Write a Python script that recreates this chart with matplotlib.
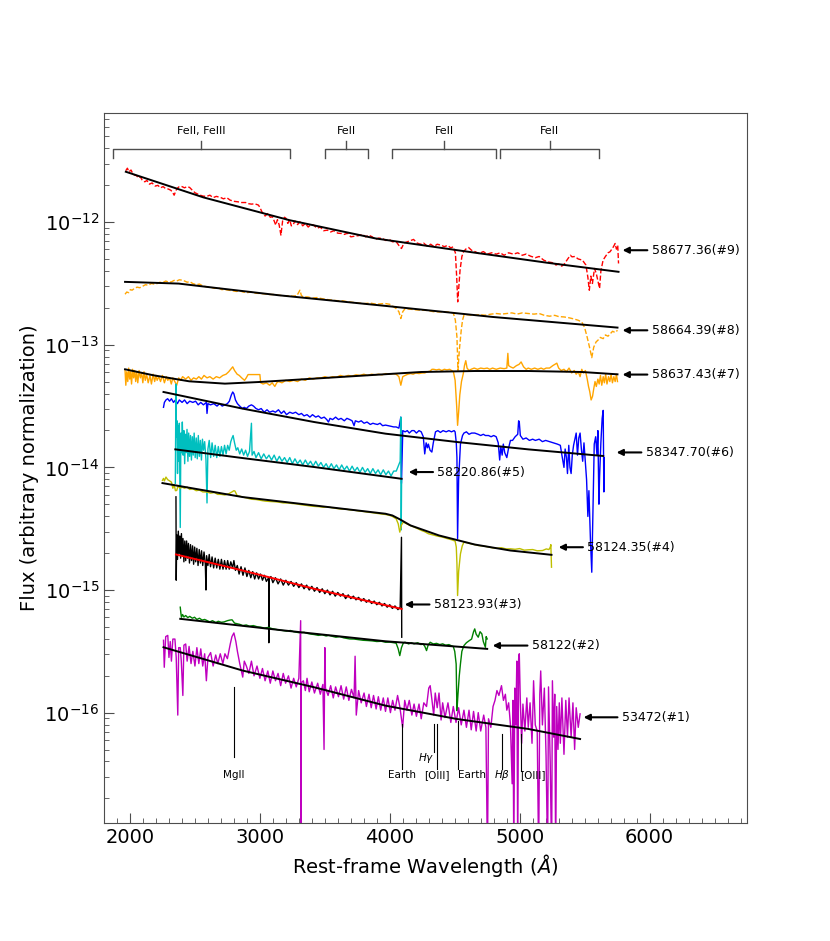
import numpy as np
from matplotlib import pyplot as plt
from matplotlib.ticker import MultipleLocator


# spectra: (rest-frame wavelength in A, log10 flux)
spec9 = [(1968, -11.58), (1980, -11.56), (1992, -11.59), (2008, -11.575), (2020, -11.60), (2034, -11.616),
         (2050, -11.62), (2065, -11.64), (2080, -11.63), (2095, -11.66), (2114, -11.671), (2130, -11.66),
         (2150, -11.69), (2170, -11.68), (2194, -11.706), (2215, -11.70), (2235, -11.72), (2255, -11.71),
         (2273, -11.725), (2295, -11.73), (2315, -11.74), (2330, -11.76), (2340, -11.78), (2355, -11.74),
         (2368, -11.72), (2379, -11.711), (2400, -11.71), (2420, -11.72), (2440, -11.71), (2459, -11.717),
         (2480, -11.74), (2500, -11.76), (2520, -11.77), (2540, -11.78), (2565, -11.788), (2590, -11.79),
         (2615, -11.78), (2640, -11.80), (2665, -11.79), (2698, -11.799), (2720, -11.81), (2745, -11.80),
         (2770, -11.82), (2800, -11.83), (2830, -11.834), (2860, -11.84), (2890, -11.84), (2915, -11.85),
         (2936, -11.853), (2960, -11.85), (2989, -11.861), (3000, -11.88), (3016, -11.916), (3040, -11.95),
         (3060, -11.93), (3080, -11.96), (3096, -11.956), (3110, -11.99), (3122, -12.024), (3135, -11.98),
         (3148, -12.02), (3162, -12.106), (3175, -11.99), (3190, -11.96), (3202, -11.97), (3215, -12.01),
         (3230, -11.98), (3242, -12.03), (3255, -12.024), (3270, -11.99), (3290, -12.02), (3308, -11.997),
         (3330, -12.03), (3350, -12.01), (3372, -12.04), (3393, -12.02), (3414, -12.024), (3440, -12.05),
         (3465, -12.04), (3490, -12.07), (3520, -12.065), (3545, -12.08), (3570, -12.07), (3600, -12.09),
         (3626, -12.092), (3650, -12.10), (3675, -12.09), (3700, -12.12), (3732, -12.114), (3760, -12.11),
         (3790, -12.10), (3815, -12.12), (3838, -12.106), (3865, -12.12), (3890, -12.14), (3915, -12.13),
         (3944, -12.133), (3970, -12.15), (3995, -12.14), (4020, -12.16), (4050, -12.16), (4070, -12.19),
         (4090, -12.215), (4110, -12.17), (4135, -12.16), (4160, -12.15), (4183, -12.141), (4210, -12.17),
         (4235, -12.18), (4260, -12.17), (4289, -12.196), (4315, -12.18), (4340, -12.20), (4365, -12.18),
         (4395, -12.188), (4420, -12.20), (4445, -12.19), (4470, -12.21), (4488, -12.201), (4505, -12.25),
         (4515, -12.446), (4523, -12.65), (4530, -12.55), (4541, -12.392), (4555, -12.28), (4568, -12.242),
         (4585, -12.22), (4607, -12.207), (4630, -12.23), (4655, -12.24), (4687, -12.256), (4720, -12.24),
         (4750, -12.26), (4785, -12.25), (4820, -12.261), (4850, -12.25), (4880, -12.27), (4915, -12.25),
         (4952, -12.261), (4985, -12.25), (5020, -12.27), (5050, -12.26), (5085, -12.278), (5120, -12.29),
         (5150, -12.28), (5185, -12.31), (5218, -12.324), (5250, -12.33), (5280, -12.35), (5300, -12.34),
         (5324, -12.359), (5345, -12.34), (5370, -12.30), (5390, -12.27), (5403, -12.283), (5425, -12.28),
         (5450, -12.30), (5483, -12.31), (5510, -12.35), (5525, -12.45), (5536, -12.555), (5548, -12.44),
         (5560, -12.50), (5576, -12.378), (5590, -12.42), (5602, -12.48), (5615, -12.541), (5625, -12.40),
         (5642, -12.31), (5660, -12.28), (5680, -12.25), (5695, -12.242), (5710, -12.22), (5722, -12.20),
         (5735, -12.174), (5745, -12.22), (5755, -12.19), (5761, -12.337)]

spec8 = [(1962, -12.588), (1975, -12.57), (1990, -12.575), (2003, -12.55), (2016, -12.555), (2035, -12.54),
         (2055, -12.53), (2075, -12.535), (2099, -12.522), (2120, -12.51), (2140, -12.515), (2165, -12.50),
         (2185, -12.505), (2209, -12.501), (2230, -12.49), (2250, -12.495), (2275, -12.48), (2300, -12.49),
         (2319, -12.487), (2340, -12.475), (2360, -12.48), (2380, -12.47), (2401, -12.473), (2420, -12.48),
         (2440, -12.49), (2460, -12.485), (2484, -12.501), (2510, -12.51), (2535, -12.505), (2560, -12.52),
         (2593, -12.528), (2620, -12.53), (2650, -12.54), (2680, -12.535), (2705, -12.55), (2731, -12.55),
         (2760, -12.555), (2790, -12.56), (2820, -12.565), (2845, -12.56), (2868, -12.569), (2900, -12.575),
         (2935, -12.57), (2970, -12.58), (3006, -12.582), (3040, -12.585), (3075, -12.59), (3110, -12.59),
         (3143, -12.596), (3180, -12.60), (3215, -12.60), (3253, -12.604), (3285, -12.60), (3300, -12.57),
         (3308, -12.555), (3320, -12.60), (3335, -12.609), (3370, -12.61), (3405, -12.62), (3440, -12.615),
         (3473, -12.623), (3510, -12.63), (3550, -12.635), (3590, -12.64), (3638, -12.642), (3680, -12.65),
         (3720, -12.655), (3760, -12.66), (3802, -12.664), (3850, -12.66), (3900, -12.67), (3940, -12.665),
         (3967, -12.664), (4000, -12.67), (4030, -12.69), (4049, -12.705), (4070, -12.73), (4085, -12.786),
         (4100, -12.73), (4118, -12.705), (4160, -12.71), (4200, -12.715), (4242, -12.718), (4290, -12.72),
         (4335, -12.73), (4380, -12.732), (4420, -12.73), (4460, -12.735), (4489, -12.74), (4505, -12.80),
         (4517, -12.936), (4525, -13.208), (4535, -13.05), (4550, -12.882), (4560, -12.80), (4571, -12.759),
         (4600, -12.755), (4640, -12.76), (4690, -12.755), (4736, -12.759), (4780, -12.75), (4820, -12.745),
         (4860, -12.75), (4901, -12.745), (4940, -12.74), (4980, -12.75), (5020, -12.74), (5066, -12.745),
         (5110, -12.75), (5150, -12.745), (5190, -12.76), (5231, -12.767), (5270, -12.76), (5300, -12.77),
         (5341, -12.773), (5380, -12.78), (5420, -12.79), (5450, -12.80), (5478, -12.814), (5500, -12.86),
         (5519, -12.936), (5540, -13.03), (5555, -13.105), (5570, -13.02), (5588, -12.977), (5605, -12.96),
         (5620, -12.94), (5643, -12.95), (5660, -12.92), (5680, -12.93), (5698, -12.909), (5715, -12.89),
         (5735, -12.90), (5753, -12.882)]

spec7 = [(1962, -13.21), (1968, -13.33), (1975, -13.22), (1983, -13.30), (1990, -13.19), (1998, -13.28),
         (2005, -13.22), (2012, -13.32), (2020, -13.20), (2028, -13.27), (2036, -13.21), (2044, -13.30),
         (2052, -13.22), (2060, -13.31), (2070, -13.21), (2080, -13.27), (2090, -13.23), (2099, -13.31),
         (2108, -13.22), (2118, -13.29), (2128, -13.24), (2140, -13.31), (2154, -13.25), (2165, -13.32),
         (2178, -13.24), (2190, -13.30), (2200, -13.25), (2209, -13.29), (2222, -13.26), (2235, -13.30),
         (2250, -13.25), (2265, -13.31), (2280, -13.26), (2291, -13.29), (2305, -13.27), (2318, -13.32),
         (2330, -13.27), (2345, -13.30), (2360, -13.33), (2375, -13.27), (2390, -13.29), (2405, -13.26),
         (2429, -13.28), (2450, -13.26), (2470, -13.29), (2490, -13.27), (2511, -13.28), (2530, -13.26),
         (2550, -13.28), (2570, -13.25), (2593, -13.27), (2615, -13.26), (2640, -13.28), (2665, -13.26),
         (2690, -13.27), (2715, -13.25), (2740, -13.24), (2760, -13.22), (2775, -13.20), (2791, -13.18),
         (2805, -13.21), (2825, -13.24), (2841, -13.25), (2860, -13.27), (2882, -13.29), (2895, -13.27),
         (2909, -13.243), (3000, -13.243), (3006, -13.31), (3025, -13.32), (3050, -13.31), (3075, -13.33),
         (3095, -13.31), (3115, -13.34), (3130, -13.31), (3143, -13.30), (3170, -13.31), (3200, -13.29),
         (3230, -13.30), (3260, -13.29), (3290, -13.30), (3320, -13.28), (3350, -13.29), (3380, -13.27),
         (3410, -13.28), (3440, -13.27), (3473, -13.27), (3500, -13.26), (3530, -13.27), (3560, -13.26),
         (3590, -13.265), (3620, -13.25), (3650, -13.26), (3680, -13.25), (3710, -13.255), (3740, -13.245),
         (3770, -13.25), (3800, -13.24), (3830, -13.25), (3860, -13.24), (3890, -13.245), (3912, -13.24),
         (3940, -13.245), (3970, -13.235), (4000, -13.24), (4025, -13.235), (4049, -13.24), (4070, -13.26),
         (4085, -13.33), (4100, -13.26), (4118, -13.25), (4140, -13.24), (4160, -13.235), (4180, -13.24),
         (4200, -13.23), (4225, -13.235), (4250, -13.23), (4269, -13.23), (4290, -13.22), (4310, -13.215),
         (4325, -13.20), (4338, -13.20), (4360, -13.205), (4380, -13.20), (4400, -13.21), (4420, -13.20),
         (4440, -13.205), (4461, -13.20), (4490, -13.22), (4503, -13.29), (4515, -13.50), (4522, -13.657),
         (4530, -13.55), (4539, -13.41), (4552, -13.30), (4566, -13.235), (4575, -13.17), (4585, -13.13),
         (4595, -13.19), (4610, -13.21), (4626, -13.20), (4650, -13.19), (4675, -13.20), (4700, -13.19),
         (4725, -13.195), (4750, -13.19), (4770, -13.20), (4791, -13.19), (4820, -13.20), (4850, -13.19),
         (4880, -13.195), (4901, -13.19), (4909, -13.07), (4915, -13.17), (4929, -13.18), (4950, -13.19),
         (4975, -13.17), (4995, -13.16), (5011, -13.14), (5030, -13.18), (5050, -13.20), (5066, -13.19),
         (5090, -13.20), (5115, -13.19), (5140, -13.20), (5165, -13.19), (5185, -13.20), (5204, -13.19),
         (5230, -13.19), (5255, -13.17), (5270, -13.16), (5286, -13.15), (5300, -13.19), (5320, -13.21),
         (5341, -13.20), (5360, -13.22), (5380, -13.19), (5400, -13.23), (5420, -13.21), (5435, -13.24),
         (5451, -13.22), (5465, -13.26), (5478, -13.20), (5490, -13.23), (5506, -13.21), (5520, -13.28),
         (5530, -13.34), (5539, -13.38), (5550, -13.45), (5561, -13.42), (5570, -13.36), (5580, -13.30),
         (5590, -13.34), (5602, -13.28), (5612, -13.32), (5622, -13.25), (5632, -13.33), (5643, -13.26),
         (5652, -13.31), (5662, -13.24), (5672, -13.32), (5684, -13.26), (5694, -13.30), (5704, -13.24),
         (5714, -13.31), (5725, -13.26), (5735, -13.30), (5745, -13.24), (5753, -13.30)]

spec6 = [(2258, -13.51), (2265, -13.47), (2277, -13.45), (2290, -13.44), (2305, -13.46), (2319, -13.44),
         (2335, -13.47), (2350, -13.45), (2365, -13.48), (2380, -13.45), (2401, -13.47), (2420, -13.45),
         (2440, -13.48), (2460, -13.46), (2484, -13.47), (2505, -13.46), (2525, -13.49), (2545, -13.47),
         (2565, -13.49), (2588, -13.47), (2593, -13.56), (2600, -13.48), (2620, -13.49), (2645, -13.48),
         (2670, -13.50), (2690, -13.48), (2710, -13.50), (2730, -13.49), (2750, -13.48), (2765, -13.46),
         (2780, -13.41), (2791, -13.385), (2800, -13.40), (2812, -13.45), (2827, -13.48), (2845, -13.50),
         (2865, -13.52), (2880, -13.51), (2896, -13.52), (2915, -13.50), (2935, -13.49), (2951, -13.50),
         (2970, -13.52), (2990, -13.53), (3010, -13.52), (3033, -13.55), (3055, -13.53), (3075, -13.55),
         (3100, -13.54), (3120, -13.55), (3143, -13.53), (3165, -13.56), (3185, -13.54), (3205, -13.57),
         (3230, -13.55), (3253, -13.56), (3275, -13.55), (3300, -13.57), (3320, -13.56), (3340, -13.58),
         (3363, -13.57), (3385, -13.59), (3405, -13.57), (3430, -13.59), (3450, -13.58), (3473, -13.60),
         (3495, -13.59), (3515, -13.61), (3528, -13.63), (3540, -13.60), (3560, -13.61), (3583, -13.59),
         (3605, -13.61), (3625, -13.60), (3650, -13.62), (3670, -13.60), (3692, -13.61), (3710, -13.62),
         (3725, -13.66), (3735, -13.62), (3760, -13.63), (3780, -13.62), (3802, -13.64), (3825, -13.63),
         (3850, -13.65), (3870, -13.64), (3885, -13.645), (3905, -13.65), (3925, -13.64), (3945, -13.66),
         (3967, -13.655), (3990, -13.66), (4010, -13.665), (4030, -13.67), (4049, -13.67), (4070, -13.68),
         (4085, -13.59), (4090, -14.13), (4100, -13.70), (4118, -13.71), (4135, -13.70), (4150, -13.72),
         (4170, -13.70), (4187, -13.70), (4205, -13.72), (4225, -13.70), (4242, -13.71), (4258, -13.75),
         (4269, -13.89), (4280, -13.80), (4290, -13.84), (4297, -13.81), (4310, -13.86), (4324, -13.875),
         (4335, -13.80), (4352, -13.71), (4370, -13.70), (4390, -13.715), (4410, -13.70), (4434, -13.71),
         (4455, -13.70), (4475, -13.71), (4495, -13.70), (4503, -13.71), (4512, -13.80), (4517, -13.92),
         (4522, -14.58), (4530, -14.10), (4544, -13.81), (4560, -13.74), (4571, -13.72), (4590, -13.71),
         (4610, -13.73), (4630, -13.72), (4654, -13.72), (4680, -13.73), (4700, -13.74), (4720, -13.73),
         (4736, -13.74), (4760, -13.74), (4780, -13.75), (4800, -13.74), (4819, -13.75), (4835, -13.80),
         (4846, -13.94), (4855, -13.83), (4865, -13.90), (4874, -13.81), (4885, -13.88), (4901, -13.92),
         (4915, -13.84), (4929, -13.78), (4945, -13.78), (4965, -13.75), (4985, -13.73), (4992, -13.62),
         (4997, -13.63), (5005, -13.74), (5025, -13.77), (5050, -13.76), (5075, -13.78), (5100, -13.77),
         (5121, -13.78), (5150, -13.77), (5175, -13.79), (5200, -13.78), (5231, -13.79), (5260, -13.80),
         (5290, -13.81), (5313, -13.82), (5325, -13.90), (5341, -14.00), (5350, -13.85), (5360, -13.92),
         (5368, -14.05), (5378, -13.82), (5387, -14.00), (5396, -14.05), (5405, -13.90), (5415, -13.82),
         (5423, -13.78), (5435, -13.72), (5445, -13.90), (5455, -13.76), (5465, -13.72), (5475, -13.85),
         (5485, -13.95), (5495, -13.80), (5506, -13.97), (5515, -14.10), (5525, -14.40), (5533, -14.19),
         (5545, -14.60), (5555, -14.855), (5565, -14.30), (5574, -13.81), (5585, -13.75), (5595, -13.90),
         (5602, -13.70), (5610, -14.30), (5615, -14.08), (5625, -13.80), (5635, -13.60), (5643, -13.535),
         (5648, -14.20), (5651, -13.92)]

spec5 = [(2349, -14.13), (2354, -13.32), (2358, -13.75), (2362, -13.62), (2366, -14.05), (2370, -13.66),
         (2375, -13.95), (2380, -13.64), (2387, -14.49), (2392, -13.72), (2398, -13.88), (2403, -13.63),
         (2409, -13.90), (2415, -13.70), (2421, -13.97), (2427, -13.73), (2433, -13.88), (2439, -13.69),
         (2446, -13.95), (2452, -13.72), (2459, -13.91), (2466, -13.74), (2473, -13.94), (2480, -13.75),
         (2487, -13.90), (2494, -13.72), (2502, -13.92), (2510, -13.76), (2518, -13.93), (2526, -13.74),
         (2534, -13.91), (2542, -13.78), (2550, -13.94), (2558, -13.77), (2566, -13.86), (2575, -13.79),
         (2585, -13.94), (2593, -14.29), (2600, -13.85), (2610, -13.78), (2621, -13.92), (2632, -13.80),
         (2644, -13.91), (2656, -13.82), (2668, -13.92), (2680, -13.83), (2692, -13.91), (2704, -13.83),
         (2716, -13.90), (2728, -13.82), (2740, -13.89), (2752, -13.82), (2764, -13.86), (2776, -13.79),
         (2786, -13.76), (2794, -13.74), (2805, -13.80), (2818, -13.86), (2830, -13.84), (2845, -13.89),
         (2860, -13.85), (2875, -13.90), (2890, -13.86), (2905, -13.91), (2920, -13.87), (2935, -13.64),
         (2940, -13.90), (2955, -13.87), (2970, -13.92), (2990, -13.88), (3010, -13.93), (3030, -13.89),
         (3050, -13.93), (3070, -13.90), (3090, -13.94), (3110, -13.90), (3130, -13.95), (3150, -13.91),
         (3170, -13.95), (3190, -13.92), (3210, -13.96), (3230, -13.92), (3250, -13.97), (3270, -13.93),
         (3290, -13.97), (3310, -13.94), (3330, -13.98), (3350, -13.94), (3370, -13.98), (3390, -13.95),
         (3410, -13.99), (3430, -13.95), (3450, -13.99), (3470, -13.96), (3490, -14.00), (3510, -13.97),
         (3530, -14.01), (3550, -13.97), (3570, -14.01), (3590, -13.98), (3610, -14.02), (3630, -13.98),
         (3650, -14.02), (3670, -13.99), (3690, -14.03), (3710, -13.99), (3730, -14.03), (3750, -14.00),
         (3770, -14.04), (3790, -14.00), (3810, -14.04), (3830, -14.01), (3850, -14.05), (3870, -14.01),
         (3890, -14.05), (3910, -14.02), (3930, -14.06), (3950, -14.02), (3970, -14.06), (3990, -14.03),
         (4010, -14.07), (4030, -14.03), (4050, -14.03), (4065, -13.99), (4080, -13.95), (4085, -13.59),
         (4088, -14.51), (4091, -14.10)]

spec4 = [(2250, -14.106), (2258, -14.09), (2265, -14.11), (2277, -14.079), (2290, -14.10), (2305, -14.11),
         (2319, -14.12), (2330, -14.17), (2340, -14.14), (2350, -14.19), (2360, -14.188), (2370, -14.15),
         (2385, -14.17), (2401, -14.161), (2420, -14.17), (2440, -14.16), (2460, -14.18), (2484, -14.174),
         (2510, -14.19), (2535, -14.185), (2560, -14.20), (2593, -14.201), (2620, -14.21), (2650, -14.205),
         (2675, -14.22), (2703, -14.22), (2730, -14.225), (2760, -14.215), (2785, -14.20), (2800, -14.19),
         (2808, -14.193), (2825, -14.23), (2845, -14.235), (2868, -14.242), (2900, -14.25), (2935, -14.26),
         (2970, -14.262), (3006, -14.269), (3040, -14.275), (3075, -14.278), (3110, -14.28), (3143, -14.283),
         (3180, -14.29), (3215, -14.29), (3250, -14.295), (3280, -14.297), (3320, -14.305), (3360, -14.31),
         (3390, -14.315), (3418, -14.318), (3450, -14.32), (3490, -14.325), (3520, -14.322), (3555, -14.329),
         (3590, -14.335), (3625, -14.34), (3660, -14.34), (3692, -14.346), (3730, -14.35), (3765, -14.356),
         (3800, -14.36), (3830, -14.365), (3870, -14.37), (3900, -14.375), (3935, -14.38), (3967, -14.384),
         (3995, -14.39), (4020, -14.40), (4049, -14.419), (4065, -14.46), (4077, -14.528), (4090, -14.47),
         (4104, -14.446), (4130, -14.46), (4160, -14.475), (4187, -14.487), (4215, -14.50), (4245, -14.515),
         (4270, -14.525), (4297, -14.541), (4330, -14.55), (4365, -14.56), (4407, -14.569), (4440, -14.58),
         (4475, -14.59), (4503, -14.601), (4512, -14.65), (4517, -14.786), (4522, -15.045), (4530, -14.85),
         (4544, -14.705), (4558, -14.64), (4571, -14.61), (4600, -14.615), (4630, -14.625), (4655, -14.63),
         (4681, -14.637), (4710, -14.64), (4740, -14.645), (4765, -14.65), (4791, -14.656), (4825, -14.66),
         (4860, -14.655), (4895, -14.665), (4929, -14.664), (4965, -14.668), (5000, -14.662), (5035, -14.675),
         (5066, -14.672), (5100, -14.67), (5135, -14.68), (5176, -14.678), (5205, -14.665), (5225, -14.67),
         (5236, -14.65), (5240, -14.63), (5245, -14.814)]

spec3 = [(2354, -14.24), (2356, -14.92), (2360, -14.55), (2366, -14.75), (2372, -14.52), (2378, -14.70),
         (2384, -14.56), (2390, -14.74), (2396, -14.54), (2402, -14.72), (2408, -14.58), (2415, -14.77),
         (2422, -14.60), (2429, -14.76), (2436, -14.60), (2443, -14.74), (2450, -14.62), (2458, -14.78),
         (2466, -14.63), (2474, -14.76), (2482, -14.64), (2490, -14.79), (2498, -14.65), (2506, -14.77),
         (2515, -14.66), (2524, -14.80), (2533, -14.67), (2542, -14.78), (2551, -14.68), (2560, -14.80),
         (2570, -14.69), (2580, -14.79), (2585, -15.00), (2590, -14.72), (2600, -14.80), (2610, -14.71),
         (2620, -14.81), (2632, -14.73), (2644, -14.82), (2656, -14.74), (2668, -14.82), (2680, -14.75),
         (2692, -14.83), (2704, -14.75), (2716, -14.83), (2728, -14.76), (2740, -14.83), (2752, -14.76),
         (2764, -14.83), (2776, -14.77), (2790, -14.82), (2800, -14.76), (2812, -14.84), (2826, -14.80),
         (2840, -14.87), (2855, -14.81), (2870, -14.88), (2885, -14.82), (2900, -14.89), (2915, -14.84),
         (2930, -14.90), (2945, -14.85), (2960, -14.91), (2975, -14.86), (2990, -14.91), (3005, -14.87),
         (3020, -14.92), (3035, -14.88), (3050, -14.93), (3068, -14.90), (3069, -15.43), (3070, -14.91),
         (3085, -14.89), (3100, -14.94), (3120, -14.90), (3140, -14.95), (3160, -14.91), (3180, -14.96),
         (3200, -14.92), (3220, -14.96), (3240, -14.93), (3260, -14.97), (3280, -14.94), (3300, -14.98),
         (3320, -14.95), (3340, -14.99), (3360, -14.96), (3380, -15.00), (3400, -14.97), (3420, -15.01),
         (3440, -14.98), (3460, -15.02), (3480, -14.99), (3500, -15.03), (3520, -15.00), (3540, -15.04),
         (3560, -15.01), (3580, -15.05), (3600, -15.02), (3620, -15.05), (3640, -15.03), (3660, -15.07),
         (3680, -15.04), (3700, -15.07), (3720, -15.05), (3740, -15.08), (3760, -15.06), (3780, -15.09),
         (3800, -15.07), (3820, -15.10), (3840, -15.08), (3860, -15.11), (3880, -15.09), (3900, -15.12),
         (3920, -15.10), (3940, -15.13), (3960, -15.11), (3980, -15.14), (4000, -15.12), (4020, -15.15),
         (4040, -15.13), (4063, -15.16), (4080, -15.14), (4090, -14.57), (4092, -15.385)]

spec2 = [(2387, -15.14), (2392, -15.19), (2396, -15.222), (2405, -15.20), (2415, -15.22), (2429, -15.208),
         (2445, -15.225), (2460, -15.215), (2480, -15.23), (2497, -15.222), (2515, -15.24), (2535, -15.23),
         (2555, -15.245), (2575, -15.24), (2593, -15.249), (2615, -15.26), (2635, -15.25), (2660, -15.265),
         (2680, -15.255), (2703, -15.263), (2725, -15.26), (2750, -15.25), (2770, -15.245), (2786, -15.243),
         (2805, -15.27), (2825, -15.275), (2845, -15.28), (2868, -15.29), (2895, -15.285), (2920, -15.295),
         (2950, -15.29), (2980, -15.30), (3006, -15.303), (3035, -15.31), (3065, -15.305), (3095, -15.315),
         (3120, -15.32), (3143, -15.325), (3175, -15.33), (3205, -15.335), (3235, -15.33), (3260, -15.34),
         (3280, -15.344), (3310, -15.35), (3340, -15.345), (3370, -15.355), (3395, -15.36), (3418, -15.363),
         (3450, -15.37), (3480, -15.365), (3510, -15.375), (3530, -15.37), (3555, -15.377), (3585, -15.385),
         (3615, -15.38), (3645, -15.39), (3670, -15.395), (3692, -15.399), (3725, -15.40), (3760, -15.405),
         (3795, -15.41), (3830, -15.412), (3865, -15.415), (3900, -15.42), (3935, -15.418), (3967, -15.426),
         (4000, -15.425), (4030, -15.43), (4049, -15.434), (4065, -15.48), (4077, -15.535), (4090, -15.47),
         (4105, -15.43), (4118, -15.426), (4145, -15.44), (4165, -15.43), (4187, -15.439), (4215, -15.43),
         (4240, -15.445), (4256, -15.439), (4270, -15.46), (4283, -15.494), (4295, -15.45), (4311, -15.426),
         (4335, -15.44), (4360, -15.435), (4385, -15.445), (4407, -15.439), (4430, -15.45), (4455, -15.445),
         (4475, -15.455), (4489, -15.461), (4500, -15.50), (4511, -15.603), (4517, -15.984), (4525, -15.85),
         (4535, -15.70), (4544, -15.603), (4555, -15.50), (4571, -15.453), (4590, -15.43), (4613, -15.412),
         (4630, -15.40), (4645, -15.34), (4654, -15.317), (4665, -15.36), (4681, -15.385), (4695, -15.34),
         (4709, -15.358), (4720, -15.42), (4736, -15.467), (4742, -15.38), (4750, -15.399)]

spec1 = [(2258, -15.41), (2264, -15.63), (2275, -15.38), (2291, -15.37), (2300, -15.55), (2310, -15.42),
         (2319, -15.58), (2330, -15.40), (2346, -15.40), (2356, -15.55), (2368, -16.02), (2375, -15.47),
         (2387, -15.47), (2395, -15.58), (2407, -15.86), (2415, -15.45), (2429, -15.44), (2440, -15.58),
         (2455, -15.46), (2470, -15.60), (2484, -15.50), (2500, -15.62), (2515, -15.47), (2530, -15.60),
         (2545, -15.48), (2560, -15.62), (2575, -15.52), (2588, -15.74), (2600, -15.55), (2621, -15.51),
         (2640, -15.62), (2660, -15.53), (2676, -15.60), (2695, -15.52), (2715, -15.60), (2731, -15.52),
         (2750, -15.56), (2772, -15.44), (2785, -15.38), (2800, -15.35), (2815, -15.42), (2827, -15.50),
         (2845, -15.60), (2868, -15.71), (2880, -15.58), (2896, -15.62), (2915, -15.68), (2935, -15.58),
         (2955, -15.70), (2978, -15.62), (3000, -15.72), (3020, -15.64), (3040, -15.74), (3061, -15.66),
         (3080, -15.76), (3100, -15.66), (3120, -15.74), (3140, -15.68), (3160, -15.78), (3180, -15.68),
         (3198, -15.76), (3220, -15.70), (3240, -15.80), (3260, -15.72), (3280, -15.79), (3300, -15.72),
         (3314, -15.25), (3315, -17.2), (3316, -15.76), (3335, -15.74), (3350, -15.82), (3363, -15.72),
         (3380, -15.83), (3400, -15.75), (3420, -15.84), (3445, -15.76), (3465, -15.85), (3485, -15.77),
         (3494, -16.30), (3500, -15.47), (3505, -15.80), (3525, -15.86), (3545, -15.78), (3565, -15.88),
         (3583, -15.79), (3605, -15.87), (3625, -15.78), (3645, -15.89), (3665, -15.79), (3685, -15.90),
         (3705, -15.81), (3725, -15.88), (3733, -15.54), (3742, -16.02), (3760, -15.82), (3780, -15.92),
         (3802, -15.84), (3820, -15.95), (3840, -15.85), (3857, -15.96), (3875, -15.86), (3895, -15.97),
         (3912, -15.87), (3930, -15.98), (3950, -15.88), (3967, -15.99), (3985, -15.88), (4005, -16.00),
         (4022, -15.90), (4040, -15.98), (4060, -15.86), (4077, -15.95), (4099, -16.12), (4115, -15.90),
         (4132, -15.98), (4150, -15.90), (4170, -16.02), (4187, -15.93), (4205, -16.03), (4225, -15.93),
         (4242, -16.05), (4262, -15.92), (4283, -15.95), (4300, -15.80), (4311, -15.78), (4325, -15.90),
         (4338, -16.02), (4350, -15.84), (4365, -15.96), (4379, -15.84), (4395, -16.06), (4407, -15.92),
         (4425, -16.04), (4448, -15.92), (4470, -16.08), (4489, -15.95), (4510, -16.08), (4530, -15.96),
         (4550, -16.10), (4571, -15.98), (4590, -16.12), (4610, -15.98), (4627, -16.14), (4645, -15.99),
         (4665, -16.15), (4681, -16.00), (4700, -16.15), (4723, -16.02), (4740, -16.12), (4752, -17.2),
         (4760, -16.05), (4778, -16.12), (4795, -15.95), (4810, -15.90), (4825, -15.82), (4840, -15.86),
         (4860, -15.78), (4875, -15.90), (4890, -15.85), (4901, -15.98), (4915, -15.92), (4929, -16.10),
         (4942, -16.58), (4948, -15.90), (4955, -17.2), (4962, -15.80), (4970, -16.10), (4978, -15.58),
         (4985, -17.2), (4992, -15.56), (4997, -15.52), (5005, -15.90), (5015, -16.25), (5025, -15.93),
         (5040, -16.15), (5055, -15.88), (5066, -16.12), (5080, -15.92), (5095, -16.25), (5107, -15.74),
         (5120, -16.10), (5135, -16.15), (5146, -17.2), (5155, -15.85), (5162, -15.66), (5175, -16.10),
         (5190, -15.80), (5203, -16.35), (5215, -17.2), (5222, -15.79), (5235, -16.40), (5246, -17.2),
         (5252, -15.74), (5262, -16.20), (5270, -15.85), (5277, -17.2), (5285, -15.95), (5295, -16.30),
         (5305, -15.92), (5313, -16.25), (5325, -15.88), (5341, -16.34), (5355, -15.90), (5368, -16.20),
         (5380, -15.88), (5396, -16.20), (5410, -15.92), (5423, -16.30), (5435, -15.96), (5451, -16.12),
         (5465, -16.01)]

# model continua (log10 flux)
mw9 = [1968, 2565, 3228, 3891, 4554, 5218, 5761]
mlg9 = [-11.589, -11.798, -11.984, -12.133, -12.234, -12.332, -12.405]
mw8 = [1962, 2374, 3143, 3967, 4791, 5753]
mlg8 = [-12.487, -12.501, -12.596, -12.683, -12.773, -12.86]
mw7 = [1962, 2181, 2456, 2731, 3006, 3418, 3830, 4242, 4654, 5066, 5478, 5753]
mlg7 = [-13.2, -13.249, -13.298, -13.317, -13.303, -13.276, -13.249, -13.222, -13.214, -13.214, -13.222, -13.241]
mw6 = [2258, 2868, 3418, 3967, 4517, 5066, 5643]
mlg6 = [-13.385, -13.521, -13.63, -13.725, -13.793, -13.853, -13.907]
mw5 = [2349, 2868, 3418, 4091]
mlg5 = [-13.853, -13.924, -13.997, -14.093]
mw4 = [2250, 2868, 3418, 3967, 4020, 4080, 4159, 4379, 4654, 4929, 5245]
mlg4 = [-14.128, -14.242, -14.31, -14.378, -14.392, -14.425, -14.473, -14.555, -14.629, -14.678, -14.713]
mw3 = [2354, 2868, 3418, 4091]
mlg3 = [-14.71, -14.841, -14.99, -15.154]
mw2 = [2387, 3143, 3967, 4750]
mlg2 = [-15.235, -15.325, -15.418, -15.48]
mw1 = [2258, 2868, 3418, 3967, 4517, 5066, 5465]
mlg1 = [-15.467, -15.657, -15.793, -15.943, -16.052, -16.133, -16.215]

# epoch labels: text, arrow head (w, log f), text x
epochs = ['58677.36(#9)', '58664.39(#8)', '58637.43(#7)', '58347.70(#6)', '58220.86(#5)',
          '58124.35(#4)', '58123.93(#3)', '58122(#2)', '53472(#1)']
head_w = [5792, 5792, 5792, 5746, 4146, 5300, 4115, 4792, 5492]
head_lg = [-12.229, -12.882, -13.243, -13.878, -14.038, -14.651, -15.118, -15.453, -16.038]
text_w = [6015, 6015, 6015, 5969, 4365, 5519, 4338, 5092, 5785]

# FeII blends on top
fe_names = ['FeII, FeIII', 'FeII', 'FeII', 'FeII']
fe_lo = [1870, 3500, 4020, 4850]
fe_hi = [3230, 3830, 4820, 5610]

# line marks at the bottom
ln_names = ['MgII', 'Earth', r'$H\gamma$', '[OIII]', 'Earth', r'$H\beta$', '[OIII]']
ln_w = [2800, 4095, 4340, 4363, 4522, 4861, 5007]
ln_top = [-15.793, -16.093, -16.093, -16.093, -16.065, -16.174, -16.174]
ln_bot = [-16.365, -16.46, -16.324, -16.46, -16.46, -16.46, -16.473]
ln_tw = [2800, 4095, 4280, 4363, 4632, 4861, 5104]
ln_tlg = [-16.509, -16.509, -16.37, -16.509, -16.509, -16.509, -16.509]


def unpack(spec):
    w, lg = zip(*spec)
    return np.array(w), np.power(10.0, np.array(lg))


def p(a):
    return np.power(10.0, np.array(a))


fig = plt.figure(figsize=(8.3, 9.41), dpi=100)
ax = fig.add_axes([0.1253, 0.1254, 0.7747, 0.7545])

styles = [(spec9, dict(color='r', ls='--')), (spec8, dict(color='orange', ls='--')),
          (spec7, dict(color='orange')), (spec6, dict(color='b')), (spec5, dict(color='c')),
          (spec4, dict(color='y')), (spec3, dict(color='k')), (spec2, dict(color='g')),
          (spec1, dict(color='m'))]
for spec, kw in styles:
    w, f = unpack(spec)
    ax.plot(w, f, lw=1, **kw)

for mw, ml in [(mw9, mlg9), (mw8, mlg8), (mw7, mlg7), (mw6, mlg6), (mw5, mlg5),
               (mw4, mlg4), (mw2, mlg2), (mw1, mlg1)]:
    ax.plot(mw, p(ml), 'k-', lw=1.4)
ax.plot(mw3, p(mlg3), 'r-', lw=1.4)

for t, hw, hl, tw in zip(epochs, head_w, head_lg, text_w):
    ax.annotate(t, xy=(hw, 10 ** hl), xytext=(tw, 10 ** hl), ha='left', va='center', fontsize=9,
                arrowprops=dict(arrowstyle='-|>', color='k', lw=1.5, shrinkA=1, shrinkB=0))

tr = ax.get_xaxis_transform()
for name, lo, hi in zip(fe_names, fe_lo, fe_hi):
    mid = 0.5 * (lo + hi)
    ax.plot([lo, lo, hi, hi], [0.936, 0.950, 0.950, 0.936], color='0.3', lw=1, transform=tr)
    ax.plot([mid, mid], [0.950, 0.961], color='0.3', lw=1, transform=tr)
    ax.text(mid, 0.974, name, transform=tr, ha='center', va='center', fontsize=8)

for name, w, top, bot, tw, tl in zip(ln_names, ln_w, ln_top, ln_bot, ln_tw, ln_tlg):
    ax.plot([w, w], [10 ** top, 10 ** bot], 'k-', lw=0.8)
    ax.text(tw, 10 ** tl, name, ha='center', va='center', fontsize=7.5)

ax.set_yscale('log')
ax.set_xlim(1800, 6750)
ax.set_ylim(10 ** -16.9, 10 ** -11.11)
ax.set_yticks([1e-16, 1e-15, 1e-14, 1e-13, 1e-12])
ax.xaxis.set_major_locator(MultipleLocator(1000))
ax.xaxis.set_minor_locator(MultipleLocator(100))
ax.tick_params(which='both', direction='in', top=False, right=False, colors='0.3', labelcolor='k', labelsize=14)
ax.tick_params(which='major', length=7)
ax.tick_params(which='minor', length=3.5)
for s in ax.spines.values():
    s.set_color('0.3')

ax.set_xlabel(r'Rest-frame Wavelength ($\AA$)', fontsize=14)
ax.set_ylabel('Flux (arbitrary normalization)', fontsize=14)

fig.savefig('out.png', dpi=100)
